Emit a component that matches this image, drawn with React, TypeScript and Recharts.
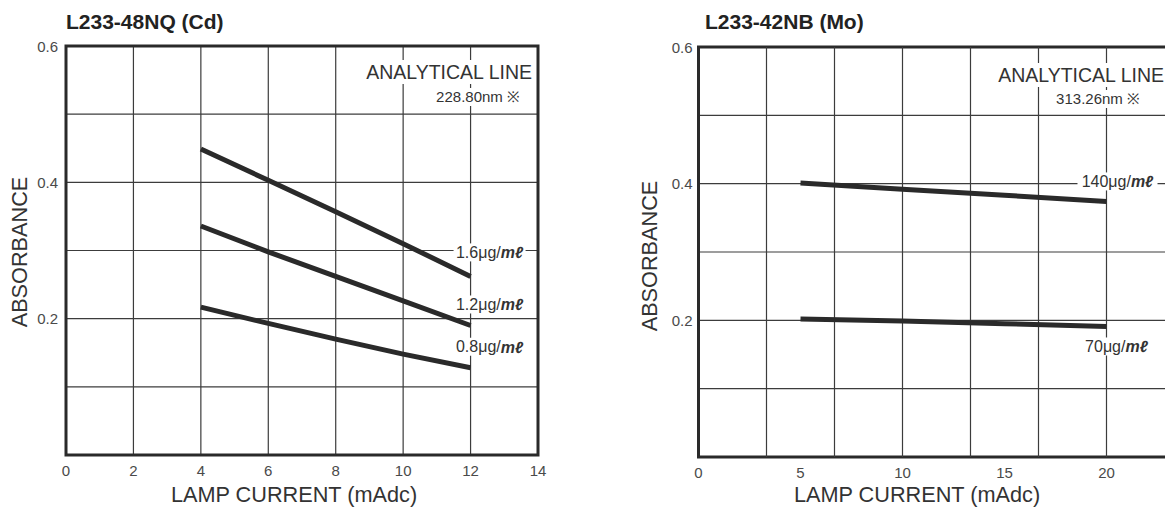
import React from "react";
import { LineChart, Line, XAxis, YAxis, CartesianGrid, ReferenceArea, ReferenceLine, LabelList } from "recharts";

// ---- Data: L233-48NQ (Cd) ----
const cdCurrent = [4, 6, 8, 10, 12];
const cd16 = [0.449, 0.403, 0.357, 0.31, 0.262];
const cd12 = [0.336, 0.298, 0.262, 0.226, 0.19];
const cd08 = [0.217, 0.193, 0.17, 0.148, 0.128];
const cdLabels = ["1.6", "1.2", "0.8"];

// ---- Data: L233-42NB (Mo) ----
const moCurrent = [5, 10, 15, 20];
const mo140 = [0.401, 0.392, 0.383, 0.374];
const mo70 = [0.202, 0.199, 0.195, 0.191];
const moLabels = ["140", "70"];

// ---- Ticks ----
const cdXTicks = [0, 2, 4, 6, 8, 10, 12, 14];
const moXTicks = [0, 5, 10, 15, 20];
const moGridTicks = [10 / 3, 20 / 3, 10, 40 / 3, 50 / 3, 20];
const absGridTicks = [0, 0.1, 0.2, 0.3, 0.4, 0.5, 0.6];
const absLabelTicks = [0.2, 0.4, 0.6];

const FONT = "'Liberation Sans', Arial, sans-serif";
const INK = "#2a2a2a";
const GRID = "#3c3c3c";

const toPoints = (xs: number[], ys: number[]) => xs.map((x, i) => ({ x, y: ys[i] }));

const absFormatter = (v: number) =>
  absLabelTicks.some((t) => Math.abs(t - v) < 1e-9) ? v.toFixed(1) : "";

function makeEndLabel(conc: string, lastIndex: number, dx: number, dy: number, boxW: number) {
  return (props: any) => {
    const { index } = props;
    if (index !== lastIndex) return null;
    const x = props.x ?? props.viewBox?.x;
    const y = props.y ?? props.viewBox?.y;
    if (x == null || y == null) return null;
    const cx = x + dx;
    const cy = y + dy;
    return (
      <g>
        <rect x={cx - boxW / 2} y={cy - 9} width={boxW} height={18} fill="#ffffff" />
        <text
          x={cx}
          y={cy}
          textAnchor="middle"
          dominantBaseline="central"
          fontSize={16}
          fill="#333"
          fontFamily={FONT}
        >
          {conc}μg/
          <tspan fontStyle="italic" fontWeight="bold">mℓ</tspan>
        </text>
      </g>
    );
  };
}

// Custom tick renderers so font size is exact
function XTick(props: any) {
  const { x, y, payload, tickFormatter } = props;
  const label = tickFormatter ? tickFormatter(payload.value) : String(payload.value);
  return (
    <text x={x} y={y} dy={5} textAnchor="middle" dominantBaseline="central" fontSize={15} fill="#4a4a4a" fontFamily={FONT}>
      {label}
    </text>
  );
}
function YTick(props: any) {
  const { x, y, payload } = props;
  const label = absFormatter(payload.value);
  if (!label) return null;
  return (
    <text x={x} y={y} textAnchor="end" dominantBaseline="central" fontSize={15} fill="#4a4a4a" fontFamily={FONT}>
      {label}
    </text>
  );
}

function CdChart() {
  const series = [cd16, cd12, cd08];
  const offsets = [
    [19, -24],
    [19, -21],
    [19, -21],
  ];
  return (
    <LineChart width={560} height={508} margin={{ top: 46, right: 22, bottom: 23, left: 26 }}>
      <CartesianGrid stroke={GRID} strokeWidth={1.2} />
      <XAxis
        type="number"
        dataKey="x"
        domain={[0, 14]}
        ticks={cdXTicks}
        interval={0}
        height={30}
        axisLine={false}
        tickLine={false}
        tickSize={0}
        tickMargin={10}
        tick={<XTick />}
      />
      <YAxis
        type="number"
        domain={[0, 0.6]}
        ticks={absGridTicks}
        interval={0}
        width={40}
        axisLine={false}
        tickLine={false}
        tickSize={0}
        tickMargin={8}
        tick={<YTick />}
      />
      <ReferenceArea x1={0} x2={14} y1={0} y2={0.6} fill="none" stroke={INK} strokeWidth={3} />
      {series.map((ys, i) => (
        <Line
          key={cdLabels[i]}
          data={toPoints(cdCurrent, ys)}
          dataKey="y"
          type="linear"
          stroke={INK}
          strokeWidth={5}
          dot={false}
          activeDot={false}
          isAnimationActive={false}
        >
          <LabelList
            dataKey="y"
            content={makeEndLabel(cdLabels[i], cdCurrent.length - 1, offsets[i][0], offsets[i][1], 72)}
          />
        </Line>
      ))}
    </LineChart>
  );
}

function MoChart() {
  const series = [mo140, mo70];
  const offsets = [
    [11, -20],
    [10, 20],
  ];
  const widths = [80, 66];
  return (
    <LineChart width={620} height={508} margin={{ top: 47, right: 45.5, bottom: 21, left: 58.5 }}>
      <CartesianGrid stroke={GRID} strokeWidth={1.2} vertical={false} />
      {moGridTicks.map((t) => (
        <ReferenceLine key={t} x={t} stroke={GRID} strokeWidth={1.2} />
      ))}
      <XAxis
        type="number"
        dataKey="x"
        domain={[0, 70 / 3]}
        ticks={moXTicks}
        interval={0}
        height={30}
        axisLine={false}
        tickLine={false}
        tickSize={0}
        tickMargin={10}
        tick={<XTick />}
      />
      <YAxis
        type="number"
        domain={[0, 0.6]}
        ticks={absGridTicks}
        interval={0}
        width={40}
        axisLine={false}
        tickLine={false}
        tickSize={0}
        tickMargin={6}
        tick={<YTick />}
      />
      <ReferenceArea x1={0} x2={70 / 3} y1={0} y2={0.6} fill="none" stroke={INK} strokeWidth={3} />
      {series.map((ys, i) => (
        <Line
          key={moLabels[i]}
          data={toPoints(moCurrent, ys)}
          dataKey="y"
          type="linear"
          stroke={INK}
          strokeWidth={5}
          dot={false}
          activeDot={false}
          isAnimationActive={false}
        >
          <LabelList
            dataKey="y"
            content={makeEndLabel(moLabels[i], moCurrent.length - 1, offsets[i][0], offsets[i][1], widths[i])}
          />
        </Line>
      ))}
    </LineChart>
  );
}

const abs = (style: React.CSSProperties): React.CSSProperties => ({ position: "absolute", ...style });

export default function App() {
  return (
    <div
      style={{
        position: "absolute",
        left: 0,
        top: 0,
        width: 1165,
        height: 508,
        overflow: "hidden",
        background: "#ffffff",
        fontFamily: FONT,
        color: "#2b2b2b",
      }}
    >
      <div style={abs({ left: 0, top: 0 })}>
        <CdChart />
      </div>
      <div style={abs({ left: 600, top: 0 })}>
        <MoChart />
      </div>

      {/* Titles */}
      <div style={abs({ left: 66, top: 10, fontSize: 21, lineHeight: "24px", fontWeight: "bold", color: "#222", whiteSpace: "nowrap" })}>
        L233-48NQ (Cd)
      </div>
      <div style={abs({ left: 705, top: 10, fontSize: 21, lineHeight: "24px", fontWeight: "bold", color: "#222", whiteSpace: "nowrap" })}>
        L233-42NB (Mo)
      </div>

      {/* Analytical line annotations */}
      <div style={abs({ right: 1165 - 534, top: 60, fontSize: 19.5, lineHeight: "24px", background: "#fff", padding: "0 2px", color: "#333", whiteSpace: "nowrap" })}>
        ANALYTICAL LINE
      </div>
      <div style={abs({ right: 1165 - 522, top: 88, fontSize: 15, lineHeight: "18px", background: "#fff", padding: "0 2px", color: "#333", whiteSpace: "nowrap" })}>
        228.80nm ※
      </div>
      <div style={abs({ right: -1, top: 63, fontSize: 19.5, lineHeight: "24px", background: "#fff", padding: "0 2px", color: "#333", whiteSpace: "nowrap" })}>
        ANALYTICAL LINE
      </div>
      <div style={abs({ right: 1165 - 1142, top: 90, fontSize: 15, lineHeight: "18px", background: "#fff", padding: "0 2px", color: "#333", whiteSpace: "nowrap" })}>
        313.26nm ※
      </div>

      {/* Axis titles */}
      <div style={abs({ left: 294 - 160, top: 482, width: 320, textAlign: "center", fontSize: 21.7, lineHeight: "26px", color: "#333", whiteSpace: "nowrap" })}>
        LAMP CURRENT (mAdc)
      </div>
      <div style={abs({ left: 917 - 160, top: 482, width: 320, textAlign: "center", fontSize: 21.7, lineHeight: "26px", color: "#333", whiteSpace: "nowrap" })}>
        LAMP CURRENT (mAdc)
      </div>
      <div style={abs({ left: 20 - 100, top: 252 - 13, width: 200, textAlign: "center", fontSize: 21.7, lineHeight: "26px", color: "#333", transform: "rotate(-90deg)", whiteSpace: "nowrap" })}>
        ABSORBANCE
      </div>
      <div style={abs({ left: 650 - 100, top: 256 - 13, width: 200, textAlign: "center", fontSize: 21.7, lineHeight: "26px", color: "#333", transform: "rotate(-90deg)", whiteSpace: "nowrap" })}>
        ABSORBANCE
      </div>
    </div>
  );
}
